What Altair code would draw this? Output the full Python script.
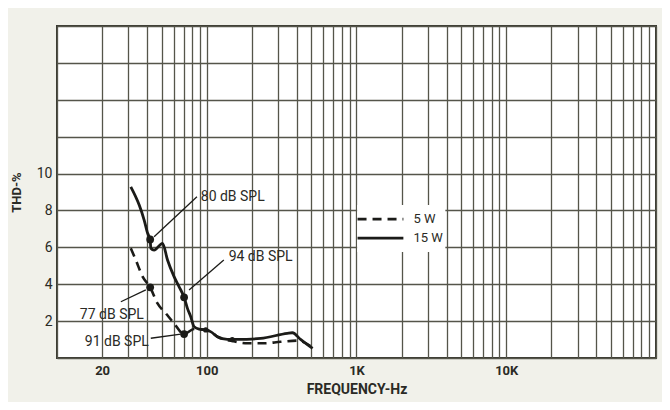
import altair as alt
import pandas as pd

# ---- data ----
# 15 W curve (solid)
freq_15 = [31.1, 35.4, 38.2, 40.3, 41.9, 42.3, 44.5, 50.7, 54.7, 60.5, 65.4, 70.6, 74.3, 78.2, 82.3,
           88.9, 98.5, 106, 118, 137, 160, 229, 345, 373, 423, 509]
thd_15 = [9.28, 8.29, 7.48, 6.76, 6.43, 5.95, 5.85, 6.22, 5.31, 4.41, 3.86, 3.29, 2.69, 2.24, 1.70,
          1.56, 1.52, 1.43, 1.15, 1.01, 1.01, 1.06, 1.34, 1.37, 1.01, 0.52]
# 5 W curve (dashed)
freq_5 = [31.1, 33.6, 37.3, 41.9, 46.9, 53.3, 60.5, 70.6, 82.3, 88.9, 98.5, 106, 118, 148, 187, 241,
          311, 402, 517]
thd_5 = [5.95, 5.31, 4.41, 3.83, 2.96, 2.42, 1.88, 1.30, 1.57, 1.56, 1.52, 1.43, 1.15, 0.92, 0.80,
         0.80, 0.88, 0.94, 0.53]

# SPL markers
marker_freq = [41.9, 70.6, 41.9, 70.6]
marker_thd = [6.43, 3.29, 3.83, 1.30]
small_marker_freq = [98.5, 148]
small_marker_thd = [1.52, 1.0]

# annotations
label_text = ["80 dB SPL", "94 dB SPL", "77 dB SPL", "91 dB SPL"]
label_freq = [91.2, 140, 38.0, 41.0]
label_thd = [8.74, 5.49, 2.33, 0.88]
label_side = ["left", "left", "right", "right"]
lead_f1 = [86.0, 130, 26.7, 42.3]
lead_t1 = [8.74, 5.31, 3.05, 1.07]
lead_f2 = [44.5, 76.2, 39.2, 67.1]
lead_t2 = [6.57, 3.69, 3.69, 1.30]

# legend
legend_labels = ["5 W", "15 W"]
legend_dash = ["dash", "solid"]
legend_f1 = [1016, 1016]
legend_f2 = [2056, 2056]
legend_t = [7.53, 6.50]
legend_text_f = [2399, 2399]
legend_box_f = [1010, 3920]
legend_box_t = [5.75, 8.29]

# axes
x_grid = [m * 10 ** k for k in range(1, 5) for m in range(1, 10)] + [100000]
x_labels = {20: "20", 100: "100", 1000: "1K", 10000: "10K"}
y_grid = [0, 2, 4, 6, 8, 10, 12, 14, 16, 18]
y_labels = [2, 4, 6, 8, 10]

FONT = "Roboto, 'Liberation Sans', sans-serif"
INK = "#1b1b18"
TXT = "#2a2a25"
GRID = "#55554a"

label_expr = " : ".join(f"datum.value == {k} ? '{v}'" for k, v in x_labels.items()) + " : ''"
ylab_expr = f"datum.value >= {min(y_labels)} && datum.value <= {max(y_labels)} ? datum.label : ''"

xscale = alt.Scale(type="log", domain=[10, 100000], nice=False)
yscale = alt.Scale(domain=[0, 18], nice=False, zero=True)

xaxis = alt.Axis(values=x_grid, labelExpr=label_expr, labelOverlap=False, labelFlush=False,
                 ticks=False, domain=False, grid=True, gridColor=GRID, gridWidth=1.3, gridOpacity=1,
                 labelFont=FONT, labelFontSize=13, labelFontWeight="bold", labelColor=TXT,
                 labelPadding=6, titleFont=FONT, titleFontSize=14, titleFontWeight="bold",
                 titleColor=TXT, titlePadding=5)
yaxis = alt.Axis(values=y_grid, labelExpr=ylab_expr, labelOverlap=False, labelFlush=False,
                 ticks=False, domain=False, grid=True, gridColor=GRID, gridWidth=1.3, gridOpacity=1,
                 labelFont=FONT, labelFontSize=14, labelColor=TXT, labelPadding=5,
                 titleFont=FONT, titleFontSize=13, titleFontWeight="bold", titleColor=TXT,
                 titlePadding=13)

X = alt.X("f:Q", scale=xscale, axis=xaxis, title="FREQUENCY-Hz")
Y = alt.Y("t:Q", scale=yscale, axis=yaxis, title="THD-%")

df15 = pd.DataFrame({"f": freq_15, "t": thd_15})
df5 = pd.DataFrame({"f": freq_5, "t": thd_5})
dfm = pd.DataFrame({"f": marker_freq, "t": marker_thd})
dfs = pd.DataFrame({"f": small_marker_freq, "t": small_marker_thd})
dfl = pd.DataFrame({"f": label_freq, "t": label_thd, "txt": label_text, "side": label_side})
dflead = pd.DataFrame({"f": lead_f1, "t": lead_t1, "f2": lead_f2, "t2": lead_t2})
dfleg = pd.DataFrame({"f": legend_f1, "f2": legend_f2, "t": legend_t, "lab": legend_labels,
                      "dash": legend_dash, "ft": legend_text_f})
dfbox = pd.DataFrame({"f": [legend_box_f[0]], "f2": [legend_box_f[1]],
                      "t": [legend_box_t[0]], "t2": [legend_box_t[1]]})

box = alt.Chart(dfbox).mark_rect(fill="white").encode(x=X, x2="f2", y=Y, y2="t2")

line15 = alt.Chart(df15).mark_line(color=INK, strokeWidth=2.8, interpolate="monotone").encode(x=X, y=Y)
line5 = alt.Chart(df5).mark_line(color=INK, strokeWidth=2.6, strokeDash=[9, 6],
                                 interpolate="monotone").encode(x=X, y=Y)

leads = alt.Chart(dflead).mark_rule(color=INK, strokeWidth=1.3).encode(x=X, y=Y, x2="f2", y2="t2")

marks = alt.Chart(dfm).mark_circle(color=INK, size=60, opacity=1).encode(x=X, y=Y)
smalls = alt.Chart(dfs).mark_circle(color=INK, size=28, opacity=1).encode(x=X, y=Y)

lab_left = alt.Chart(dfl[dfl.side == "left"]).mark_text(
    align="left", baseline="middle", font=FONT, fontSize=14, color=TXT).encode(x=X, y=Y, text="txt:N")
lab_right = alt.Chart(dfl[dfl.side == "right"]).mark_text(
    align="right", baseline="middle", font=FONT, fontSize=14, color=TXT).encode(x=X, y=Y, text="txt:N")

leg_solid = alt.Chart(dfleg[dfleg.dash == "solid"]).mark_rule(color=INK, strokeWidth=2.6).encode(
    x=X, x2="f2", y=Y)
leg_dash = alt.Chart(dfleg[dfleg.dash == "dash"]).mark_rule(color=INK, strokeWidth=2.6,
                                                             strokeDash=[9, 6]).encode(x=X, x2="f2", y=Y)
leg_text = alt.Chart(dfleg).mark_text(align="left", baseline="middle", font=FONT, fontSize=13,
                                      color=TXT).encode(
    x=alt.X("ft:Q", scale=xscale), y=Y, text="lab:N")

chart = alt.layer(box, line5, line15, leads, marks, smalls, lab_left, lab_right,
                  leg_dash, leg_solid, leg_text).properties(
    width=599, height=332, autosize="none",
    padding={"left": 49, "top": 18, "right": 6, "bottom": 44},
    background="#f1f1ea",
).configure_view(stroke="#3a3a32", strokeWidth=2, fill="white")

chart.save("out.html", embed_options={"renderer": "svg", "actions": False})
